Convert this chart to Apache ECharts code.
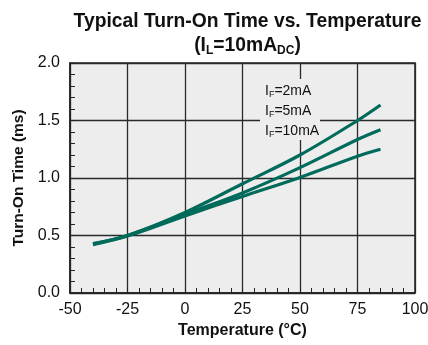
<!DOCTYPE html>
<html>
<head>
<meta charset="utf-8">
<script src="https://cdn.jsdelivr.net/npm/echarts@6/dist/echarts.min.js"></script>
<style>html,body{margin:0;padding:0;background:#fff;}#c{width:428px;height:345px;}</style>
</head>
<body>
<div id="c"></div>
<script>
var temps = [-40, -25, 0, 25, 50, 75, 85];
var if2mA = [0.43, 0.50, 0.70, 0.95, 1.20, 1.50, 1.635];
var if5mA = [0.425, 0.50, 0.685, 0.87, 1.09, 1.335, 1.42];
var if10mA = [0.42, 0.495, 0.67, 0.84, 1.005, 1.19, 1.25];
var seriesNames = ['2mA', '5mA', '10mA'];
var xTicks = [-50, -25, 0, 25, 50, 75, 100];
var yTicks = [0.0, 0.5, 1.0, 1.5, 2.0];

function pairs(v) { return temps.map(function (t, i) { return [t, v[i]]; }); }
var FONT = '"Liberation Sans", Arial, Helvetica, sans-serif';
var lineColor = '#006b5b';

var chart = echarts.init(document.getElementById('c'));
chart.setOption({
  animation: false,
  backgroundColor: '#fff',
  title: {
    left: 242.5,
    textAlign: 'center',
    top: 5,
    text: 'Typical Turn-On Time vs. Temperature\n(I{sub|L}=10mA{sub|DC})',
    textStyle: {
      fontFamily: FONT, fontSize: 19.3, fontWeight: 'bold', color: '#111', lineHeight: 24,
      rich: {
        sub: { fontFamily: FONT, fontSize: 12, fontWeight: 'bold', color: '#111', lineHeight: 24, padding: [10, 0, 0, 0] }
      }
    }
  },
  grid: {
    left: 70, top: 63, width: 345, height: 230,
    outerBoundsMode: 'none', containLabel: false,
    show: true, backgroundColor: '#ededed', borderColor: '#222', borderWidth: 1.5
  },
  xAxis: {
    type: 'value', min: xTicks[0], max: xTicks[xTicks.length - 1], interval: 25,
    name: 'Temperature (°C)', nameLocation: 'middle', nameGap: 25,
    nameTextStyle: { fontFamily: FONT, fontSize: 16, fontWeight: 'bold', color: '#111' },
    axisLine: { onZero: false, lineStyle: { color: '#222', width: 1.5 } },
    axisTick: { show: true, inside: true, length: 5, lineStyle: { color: '#222', width: 1 } },
    minorTick: { show: true, splitNumber: 5, length: 5, lineStyle: { color: '#222', width: 1 } },
    axisLabel: { fontFamily: FONT, fontSize: 16, color: '#111', margin: 9 },
    splitLine: { show: true, lineStyle: { color: '#2a2a2a', width: 1.3 } }
  },
  yAxis: {
    type: 'value', min: yTicks[0], max: yTicks[yTicks.length - 1], interval: 0.5,
    name: 'Turn-On Time (ms)', nameLocation: 'middle', nameGap: 38,
    nameTextStyle: { fontFamily: FONT, fontSize: 15.5, fontWeight: 'bold', color: '#111' },
    axisLine: { show: true, onZero: false, lineStyle: { color: '#222', width: 1.5 } },
    axisTick: { show: true, inside: true, length: 5, lineStyle: { color: '#222', width: 1 } },
    minorTick: { show: true, splitNumber: 5, length: 5, lineStyle: { color: '#222', width: 1 } },
    axisLabel: { fontFamily: FONT, fontSize: 16, color: '#111', margin: 10, formatter: function (v) { return v.toFixed(1); } },
    splitLine: { show: true, lineStyle: { color: '#2a2a2a', width: 1.3 } }
  },
  graphic: [
    {
      type: 'rect', shape: { x: 260, y: 79, width: 60, height: 61 },
      style: { fill: '#ededed' }, z: 5
    },
    {
      type: 'text', left: 265, top: 81, z: 6,
      style: {
        text: 'I{s|F}=2mA\nI{s|F}=5mA\nI{s|F}=10mA',
        fontFamily: FONT, fontSize: 14, fill: '#111', lineHeight: 20,
        rich: { s: { fontFamily: FONT, fontSize: 9, fill: '#111', lineHeight: 20, padding: [8, 0, 0, 0] } }
      }
    }
  ],
  series: [
    { name: seriesNames[0], type: 'line', data: pairs(if2mA), smooth: 0.35, showSymbol: false, lineStyle: { color: lineColor, width: 3.2 }, z: 3 },
    { name: seriesNames[1], type: 'line', data: pairs(if5mA), smooth: 0.35, showSymbol: false, lineStyle: { color: lineColor, width: 3.2 }, z: 3 },
    { name: seriesNames[2], type: 'line', data: pairs(if10mA), smooth: 0.35, showSymbol: false, lineStyle: { color: lineColor, width: 3.2 }, z: 3 }
  ]
});
</script>
</body>
</html>
